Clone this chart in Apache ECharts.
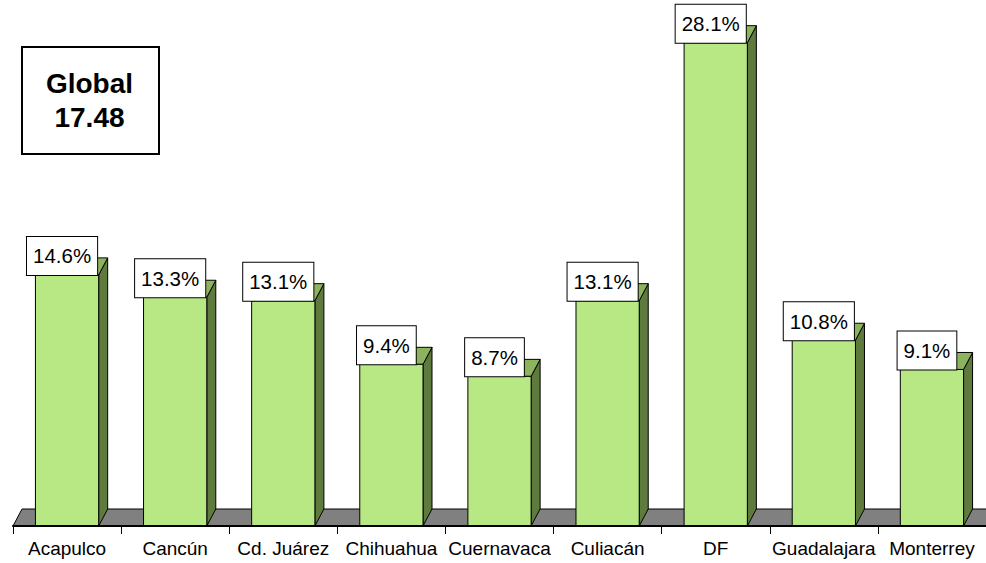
<!DOCTYPE html>
<html>
<head>
<meta charset="utf-8">
<script src="https://cdn.jsdelivr.net/npm/echarts@6/dist/echarts.min.js"></script>
<style>
html,body{margin:0;padding:0;background:#fff;}
#chart{width:986px;height:563px;}
</style>
</head>
<body>
<div id="chart"></div>
<script>
// ---- data ----
const categories = ['Acapulco', 'Cancún', 'Cd. Juárez', 'Chihuahua', 'Cuernavaca', 'Culiacán', 'DF', 'Guadalajara', 'Monterrey'];
const values = [14.6, 13.3, 13.1, 9.4, 8.7, 13.1, 28.1, 10.8, 9.1];
const globalTitle = 'Global';
const globalValue = '17.48';

// ---- style constants ----
const FONT = '"Liberation Sans", Arial, sans-serif';
const DEPTH_X = 9, DEPTH_Y = 17;
const BAR_RATIO = 0.585;
const COL_FRONT = '#B8E884', COL_SIDE = '#5F7A3D', COL_TOP = '#8DB35E';

const chart = echarts.init(document.getElementById('chart'), null, {renderer: 'svg'});

function renderBar(params, api) {
  const idx = api.value(0);
  const v = api.value(1);
  const top = api.coord([idx, v]);
  const base = api.coord([idx, 0]);
  const band = api.size([1, 0])[0];
  const w = band * BAR_RATIO;
  const x0 = top[0] - w / 2, x1 = top[0] + w / 2;
  const yT = top[1], yB = base[1];
  return {
    type: 'group',
    children: [
      { type: 'polygon', shape: { points: [[x1, yB], [x1 + DEPTH_X, yB - DEPTH_Y], [x1 + DEPTH_X, yT - DEPTH_Y], [x1, yT]] },
        style: { fill: COL_SIDE, stroke: '#000', lineWidth: 1 } },
      { type: 'polygon', shape: { points: [[x0, yT], [x1, yT], [x1 + DEPTH_X, yT - DEPTH_Y], [x0 + DEPTH_X, yT - DEPTH_Y]] },
        style: { fill: COL_TOP, stroke: '#000', lineWidth: 1 } },
      { type: 'rect', shape: { x: x0, y: yT, width: w, height: yB - yT },
        style: { fill: COL_FRONT, stroke: '#000', lineWidth: 1 } },
      { type: 'text', x: top[0] - 5, y: yT,
        style: { text: v.toFixed(1) + '%', font: '20.5px ' + FONT, fill: '#000', align: 'center', verticalAlign: 'bottom',
                 lineHeight: 20, backgroundColor: '#fff', borderColor: '#000', borderWidth: 1, padding: [9, 6, 9, 6] } }
    ]
  };
}

function renderFloor(params, api) {
  const band = api.size([1, 0])[0];
  const first = api.coord([0, 0]);
  const last = api.coord([categories.length - 1, 0]);
  const L = first[0] - band / 2, R = last[0] + band / 2, y = first[1];
  return {
    type: 'polygon',
    shape: { points: [[L, y], [R, y], [R + DEPTH_X, y - DEPTH_Y], [L + DEPTH_X, y - DEPTH_Y]] },
    style: { fill: '#808080', stroke: '#000', lineWidth: 1 }
  };
}

chart.setOption({
  animation: false,
  backgroundColor: '#fff',
  grid: { left: 13, top: 10, width: 982, height: 516, containLabel: false },
  xAxis: {
    type: 'category',
    data: categories,
    boundaryGap: true,
    axisLine: { show: true, lineStyle: { color: '#000', width: 2 } },
    axisTick: { show: true, length: 8, lineStyle: { color: '#000', width: 1 } },
    axisLabel: { color: '#000', fontSize: 19, fontFamily: FONT, margin: 13, interval: 0 },
    z: 10
  },
  yAxis: { type: 'value', min: 0, max: 30, show: false, splitLine: { show: false } },
  series: [
    { type: 'custom', renderItem: renderFloor, data: [[0, 0]], z: 1, silent: true, clip: false },
    { type: 'custom', renderItem: renderBar, data: values.map((v, i) => [i, v]), z: 2, clip: false,
      encode: { x: 0, y: 1 } }
  ],
  graphic: [
    { type: 'rect', left: 21, top: 46, shape: { width: 137, height: 107 },
      style: { fill: '#fff', stroke: '#000', lineWidth: 2 }, z: 20 },
    { type: 'text', x: 89.5, y: 100, z: 21,
      style: { text: globalTitle + '\n' + globalValue, font: 'bold 28px ' + FONT, fill: '#000',
               align: 'center', verticalAlign: 'middle', lineHeight: 34 } }
  ]
});
</script>
</body>
</html>
